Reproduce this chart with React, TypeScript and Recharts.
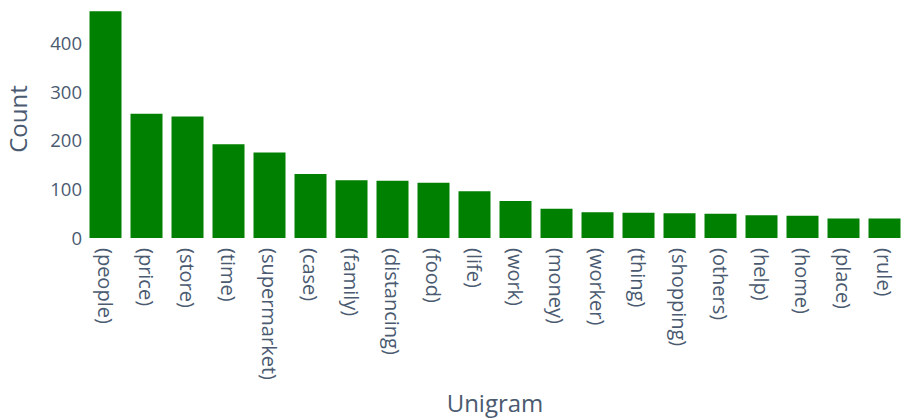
import { BarChart, Bar, XAxis, YAxis, Label } from 'recharts';

const unigrams = [
  '(people)', '(price)', '(store)', '(time)', '(supermarket)', '(case)', '(family)',
  '(distancing)', '(food)', '(life)', '(work)', '(money)', '(worker)', '(thing)',
  '(shopping)', '(others)', '(help)', '(home)', '(place)', '(rule)',
];
const counts = [467, 256, 250, 193, 176, 132, 119, 118, 114, 96, 76, 60, 53, 52, 51, 50, 47, 46, 40, 40];
const yTicks = [0, 100, 200, 300, 400];

const data = unigrams.map((word, i) => ({ word, count: counts[i] }));

const FONT = '"Open Sans", sans-serif';
const TEXT = '#4a5a70';

const RotatedTick = (props: any) => {
  const { x, y, payload } = props;
  return (
    <text
      x={x}
      y={y}
      transform={`rotate(90, ${x}, ${y})`}
      textAnchor="start"
      dominantBaseline="central"
      fill={TEXT}
      fontSize={20}
      fontFamily={FONT}
    >
      {payload.value}
    </text>
  );
};

export default function App() {
  return (
    <div style={{ position: 'absolute', left: 0, top: 0, width: 902, height: 420, overflow: 'hidden', background: '#fff' }}>
      <BarChart
        width={910}
        height={420}
        data={data}
        margin={{ top: 0, right: 5, left: 0, bottom: 0 }}
        barCategoryGap="11%"
      >
        <XAxis
          dataKey="word"
          interval={0}
          axisLine={false}
          tickLine={false}
          tickSize={0}
          tickMargin={10}
          height={182}
          tick={<RotatedTick />}
        >
          <Label
            value="Unigram"
            position="insideBottom"
            offset={8}
            fill={TEXT}
            fontSize={24}
            fontFamily={FONT}
          />
        </XAxis>
        <YAxis
          type="number"
          domain={[0, 490]}
          ticks={yTicks}
          width={85}
          axisLine={false}
          tickLine={false}
          tickSize={0}
          tickMargin={3}
          tick={{ fill: TEXT, fontSize: 18.5, fontFamily: FONT }}
        >
          <Label
            value="Count"
            angle={-90}
            position="insideLeft"
            offset={18}
            fill={TEXT}
            fontSize={24}
            fontFamily={FONT}
            style={{ textAnchor: 'middle' }}
          />
        </YAxis>
        <Bar dataKey="count" fill="#008000" isAnimationActive={false} />
      </BarChart>
    </div>
  );
}
